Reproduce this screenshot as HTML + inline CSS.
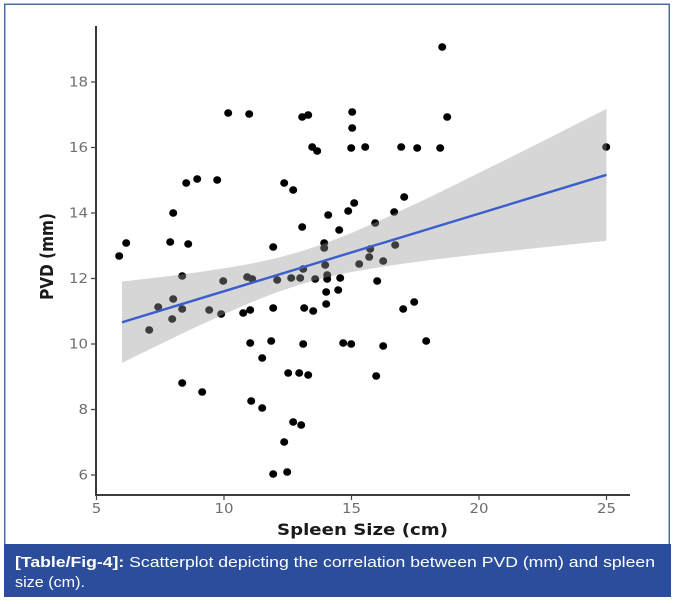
<!DOCTYPE html>
<html>
<head>
<meta charset="utf-8">
<style>
html,body{margin:0;padding:0;background:#fff;}
svg{display:block;}
</style>
</head>
<body>
<svg width="674" height="604" viewBox="0 0 674 604" xmlns="http://www.w3.org/2000/svg">
<rect width="674" height="604" fill="#fff"/>
<rect x="4.75" y="4.25" width="664.5" height="545" fill="none" stroke="#4b6ba8" stroke-width="1.5"/>
<path fill="none" stroke="#000" stroke-width="7.6" stroke-linecap="round" d="M119 256h.4M126 243h.4M170 242h.4M173 213h.4M188 244h.4M186 183h.4M197 179h.4M217 180h.4M228 113h.4M249 114h.4M302 117h.4M308 115h.4M312 147h.4M317 151h.4M284 183h.4M293 190h.4M302 227h.4M328 215h.4M339 230h.4M273 247h.4M324 243h.4M324 248h.4M182 276h.4M223 281h.4M247 277h.4M252 279h.4M277 280h.4M291 278h.4M300 278h.4M303 269h.4M315 279h.4M325 265h.4M327 275h.4M327 279h.4M340 278h.4M326 292h.4M338 290h.4M173 299h.4M442 47h.4M352 112h.4M352 128h.4M447 117h.4M351 148h.4M365 147h.4M401 147h.4M417 148h.4M440 148h.4M606 147h.4M404 197h.4M354 203h.4M348 211h.4M394 212h.4M375 223h.4M370 249h.4M369 257h.4M359 264h.4M383 261h.4M395 245h.4M377 281h.4M414 302h.4M403 309h.4M343 343h.4M351 344h.4M383 346h.4M426 341h.4M376 376h.4M158 307h.4M182 309h.4M172 319h.4M149 330h.4M209 310h.4M221 314h.4M243 313h.4M250 310h.4M273 308h.4M304 308h.4M313 311h.4M326 304h.4M250 343h.4M271 341h.4M303 344h.4M262 358h.4M288 373h.4M299 373h.4M308 375h.4M182 383h.4M202 392h.4M251 401h.4M262 408h.4M293 422h.4M301 425h.4M284 442h.4M273 474h.4M287 472h.4"/>
<polygon fill="#999999" fill-opacity="0.4" points="122,281.6 147.5,278.6 173,275.6 198.5,272.1 224,268.4 249.5,264.0 275,258.5 300.5,251.6 326,243.0 351.5,233.0 377,221.8 402.5,210.0 428,198.0 453.5,185.5 479,172.9 504.5,160.3 530,147.5 555.5,134.7 581,121.8 606.5,108.9 606.5,240.7 581,243.4 555.5,246.1 530,248.7 504.5,251.5 479,254.3 453.5,257.3 428,260.4 402.5,263.8 377,267.6 351.5,272.0 326,277.4 300.5,284.4 275,292.9 249.5,303.0 224,314.2 198.5,325.9 173,338.0 147.5,350.4 122,363.0"/>
<line x1="122" y1="322.3" x2="606.5" y2="174.8" stroke="#3a5fcd" stroke-width="2.4"/>
<path fill="none" stroke="#222" stroke-width="1.8" d="M96 26V495.9M95.1 495H630"/>
<path fill="none" stroke="#444" stroke-width="1.2" d="M91 82h5M91 147.5h5M91 213h5M91 278.5h5M91 344h5M91 409.5h5M91 475h5M96.5 495v5M224 495v5M351.5 495v5M479 495v5M606.5 495v5"/>
<g font-family="'DejaVu Sans', sans-serif" font-size="13" fill="#6e6e6e" text-anchor="end">
<text transform="translate(88,86.5) scale(1.15,1)">18</text>
<text transform="translate(88,152) scale(1.15,1)">16</text>
<text transform="translate(88,217.5) scale(1.15,1)">14</text>
<text transform="translate(88,283) scale(1.15,1)">12</text>
<text transform="translate(88,348.5) scale(1.15,1)">10</text>
<text transform="translate(88,414) scale(1.15,1)">8</text>
<text transform="translate(88,479.5) scale(1.15,1)">6</text>
</g>
<g font-family="'DejaVu Sans', sans-serif" font-size="13" fill="#6e6e6e" text-anchor="middle">
<text transform="translate(96.5,513) scale(1.15,1)">5</text>
<text transform="translate(224,513) scale(1.15,1)">10</text>
<text transform="translate(351.5,513) scale(1.15,1)">15</text>
<text transform="translate(479,513) scale(1.15,1)">20</text>
<text transform="translate(606.5,513) scale(1.15,1)">25</text>
</g>
<text x="277" y="535" font-family="'DejaVu Sans', sans-serif" font-size="16" font-weight="bold" fill="#1a1a1a" textLength="171" lengthAdjust="spacingAndGlyphs">Spleen Size (cm)</text>
<text transform="translate(53,256.5) scale(1.15,1) rotate(-90)" text-anchor="middle" font-family="'DejaVu Sans', sans-serif" font-size="15.3" font-weight="bold" fill="#1a1a1a">PVD (mm)</text>
<rect x="4" y="544" width="667" height="53" fill="#2b4d9c"/>
<text x="15" y="567" font-family="'Liberation Sans', Arial, sans-serif" font-size="15" fill="#fff" textLength="640" lengthAdjust="spacingAndGlyphs"><tspan font-weight="bold">[Table/Fig-4]:</tspan> Scatterplot depicting the correlation between PVD (mm) and spleen</text>
<text x="15" y="587" font-family="'Liberation Sans', Arial, sans-serif" font-size="15" fill="#fff" textLength="70" lengthAdjust="spacingAndGlyphs">size (cm).</text>
</svg>
</body>
</html>
